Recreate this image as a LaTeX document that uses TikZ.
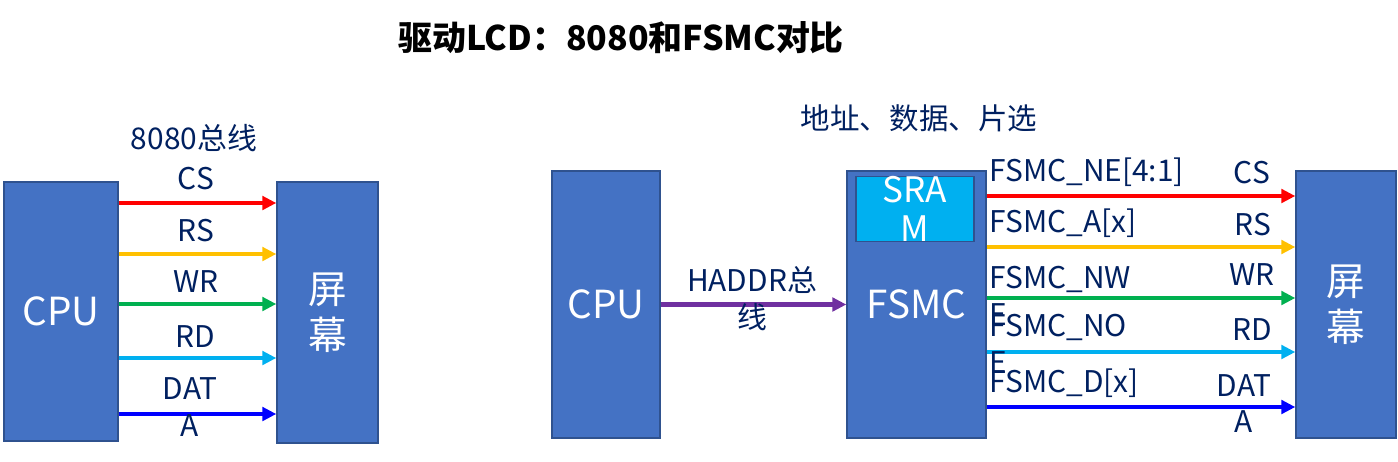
\documentclass[tikz,border=0pt]{standalone}
\usepackage{fontspec}
\setmainfont{Noto Sans CJK SC}
\usetikzlibrary{arrows.meta}
\definecolor{boxblue}{RGB}{68,114,196}
\definecolor{boxline}{RGB}{47,82,143}
\definecolor{sramblue}{RGB}{0,176,240}
\definecolor{navy}{RGB}{0,32,96}
\definecolor{sigyellow}{RGB}{255,192,0}
\definecolor{siggreen}{RGB}{0,176,80}
\definecolor{sigcyan}{RGB}{0,176,240}
\definecolor{sigpurple}{RGB}{112,48,160}

\begin{document}
\begin{tikzpicture}[x=0.02cm, y=-0.02cm,
  blk/.style={draw=boxline, line width=0.8pt, fill=boxblue, text=white,
    font=\fontsize{22}{26}\selectfont, align=center, inner sep=0pt},
  sig/.style={line width=2.5pt, -{Triangle[length=0.28cm, width=0.27cm]}},
  lbl/.style={text=navy, font=\fontsize{17}{21}\selectfont, align=center, inner sep=0pt}]
  \useasboundingbox (0,0) rectangle (1398,461);

  \node (title) at (621,38) {\fontsize{19.3}{23}\selectfont\bfseries 驱动LCD：8080和FSMC对比};
  \node[text=navy] (sub) at (919,118) {\fontsize{16.8}{20}\selectfont 地址、数据、片选};

  \node[blk, minimum width=2.28cm, minimum height=5.18cm] (cpuL) at (61,311.5) {CPU};
  \node[blk, minimum width=2.02cm, minimum height=5.22cm] (lcdL) at (327.5,312.5) {屏\\幕};

  \node[blk, minimum width=2.16cm, minimum height=5.34cm] (cpuR) at (606,304.5) {CPU};
  \node[blk, minimum width=2.78cm, minimum height=5.34cm] (fsmc) at (916.5,304.5) {FSMC};
  \node[blk, fill=sramblue, minimum width=2.36cm, minimum height=1.28cm,
        font=\fontsize{20}{22}\selectfont] (sram) at (915,209) {SRA\\M};
  \node[blk, minimum width=2.0cm, minimum height=5.34cm] (lcdR) at (1346,304.5) {屏\\幕};

  \coordinate (l1) at (0,203);
  \coordinate (l2) at (0,254);
  \coordinate (l3) at (0,304);
  \coordinate (l4) at (0,358);
  \coordinate (l5) at (0,414);
  \coordinate (r1) at (0,196);
  \coordinate (r2) at (0,247);
  \coordinate (r3) at (0,298);
  \coordinate (r4) at (0,352);
  \coordinate (r5) at (0,407);

  \draw[sig, red]       (cpuL.east |- l1) -- (lcdL.west |- l1);
  \draw[sig, sigyellow] (cpuL.east |- l2) -- (lcdL.west |- l2);
  \draw[sig, siggreen]  (cpuL.east |- l3) -- (lcdL.west |- l3);
  \draw[sig, sigcyan]   (cpuL.east |- l4) -- (lcdL.west |- l4);
  \draw[sig, blue]      (cpuL.east |- l5) -- (lcdL.west |- l5);

  \draw[sig, sigpurple] (cpuR.east) -- (fsmc.west);

  \draw[sig, red]       (fsmc.east |- r1) -- (lcdR.west |- r1);
  \draw[sig, sigyellow] (fsmc.east |- r2) -- (lcdR.west |- r2);
  \draw[sig, siggreen]  (fsmc.east |- r3) -- (lcdR.west |- r3);
  \draw[sig, sigcyan]   (fsmc.east |- r4) -- (lcdR.west |- r4);
  \draw[sig, blue]      (fsmc.east |- r5) -- (lcdR.west |- r5);

  \node[lbl] (busL) at (194,138) {8080总线};
  \node[lbl] (csL)  at (196,179) {CS};
  \node[lbl] (rsL)  at (196,231) {RS};
  \node[lbl] (wrL)  at (196,282) {WR};
  \node[lbl] (rdL)  at (195,337) {RD};
  \node[lbl] (datL) at (190,407) {DAT\\A};

  \node[lbl] (haddr) at (752,299) {HADDR总\\线};

  \node[lbl, anchor=west, align=left] (neF) at (989,172) {FSMC\_NE[4:1]};
  \node[lbl, anchor=west, align=left] (aF)  at (989,223) {FSMC\_A[x]};
  \node[lbl, anchor=west, align=left] (nwF) at (989,296) {FSMC\_NW\\E};
  \node[lbl, anchor=west, align=left] (noF) at (989,344) {FSMC\_NO\\E};
  \node[lbl, anchor=west, align=left] (dF)  at (989,383) {FSMC\_D[x]};

  \node[lbl] (csR)  at (1252,173) {CS};
  \node[lbl] (rsR)  at (1253,225) {RS};
  \node[lbl] (wrR)  at (1252,275) {WR};
  \node[lbl] (rdR)  at (1252,330) {RD};
  \node[lbl] (datR) at (1244,403.5) {DAT\\A};
\end{tikzpicture}
\end{document}
